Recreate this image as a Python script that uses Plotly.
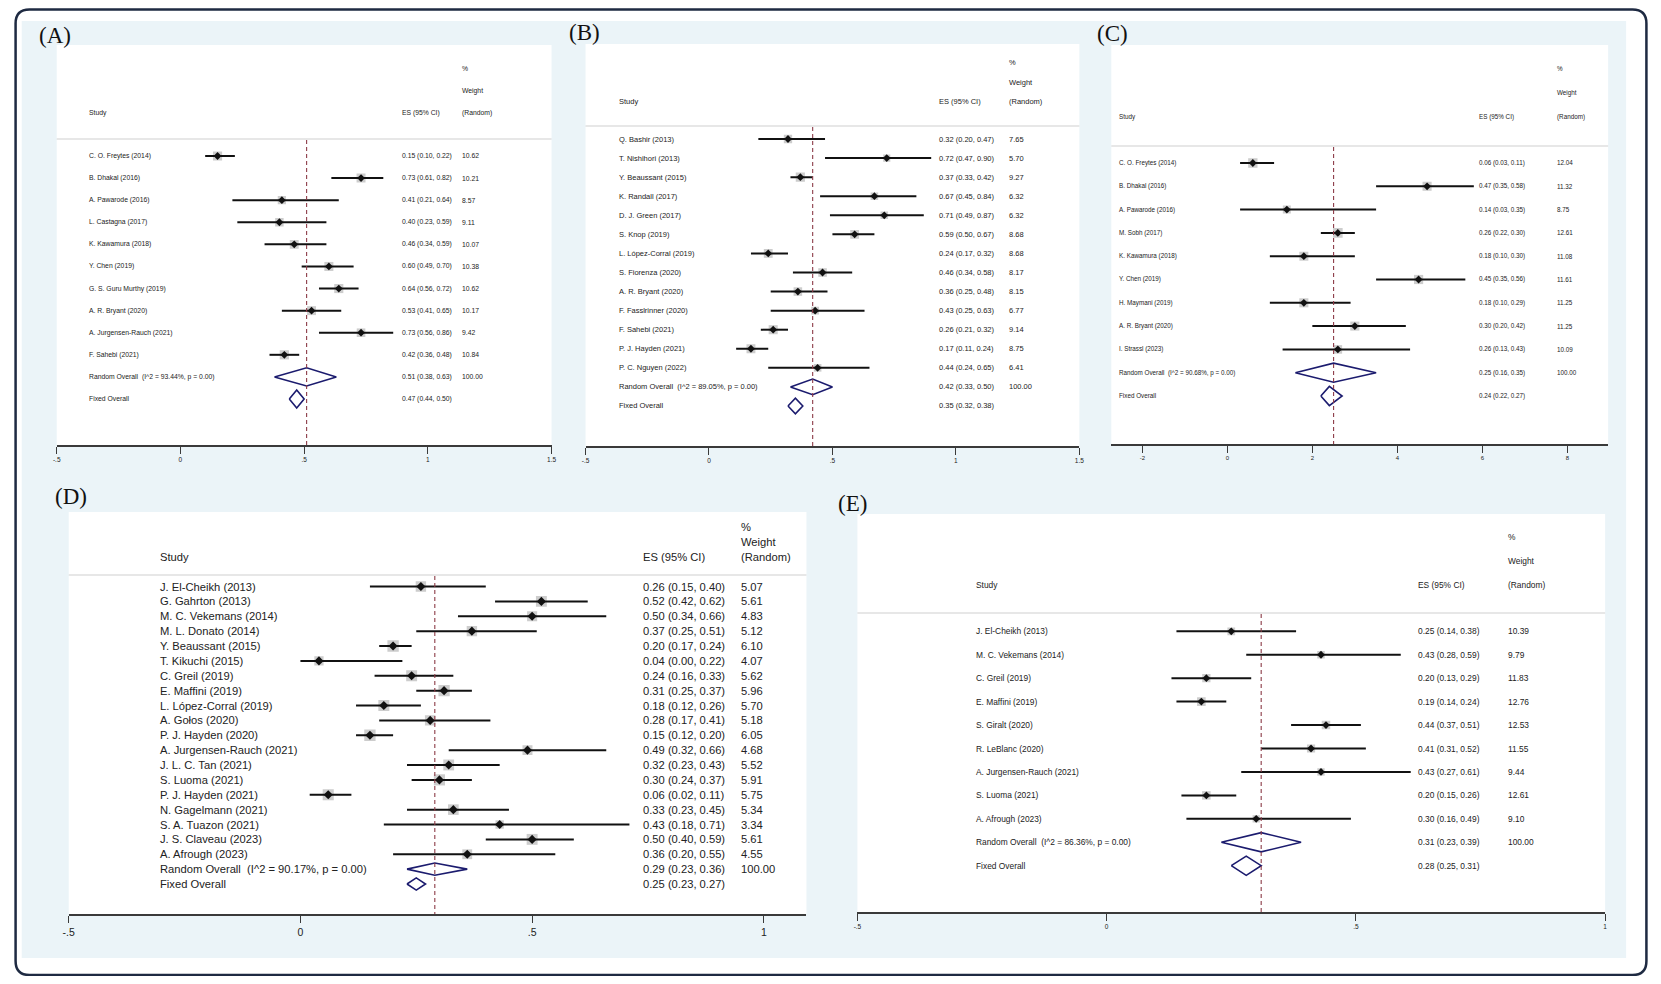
import numpy as np
import plotly.graph_objects as go

# ---------------- data ----------------
# (A)
a_study = ["C. O. Freytes (2014)", "B. Dhakal (2016)", "A. Pawarode (2016)", "L. Castagna (2017)",
           "K. Kawamura (2018)", "Y. Chen (2019)", "G. S. Guru Murthy (2019)", "A. R. Bryant (2020)",
           "A. Jurgensen-Rauch (2021)", "F. Sahebi (2021)"]
a_es = [0.15, 0.73, 0.41, 0.40, 0.46, 0.60, 0.64, 0.53, 0.73, 0.42]
a_lci = [0.10, 0.61, 0.21, 0.23, 0.34, 0.49, 0.56, 0.41, 0.56, 0.36]
a_uci = [0.22, 0.82, 0.64, 0.59, 0.59, 0.70, 0.72, 0.65, 0.86, 0.48]
a_wt = [10.62, 10.21, 8.57, 9.11, 10.07, 10.38, 10.62, 10.17, 9.42, 10.84]
a_rand = [0.51, 0.38, 0.63]
a_fixed = [0.47, 0.44, 0.50]
a_i2 = 93.44

# (B)
b_study = ["Q. Bashir (2013)", "T. Nishihori (2013)", "Y. Beaussant (2015)", "K. Randall (2017)",
           "D. J. Green (2017)", "S. Knop (2019)", "L. López-Corral (2019)", "S. Fiorenza (2020)",
           "A. R. Bryant (2020)", "F. Fasslrinner (2020)", "F. Sahebi (2021)", "P. J. Hayden (2021)",
           "P. C. Nguyen (2022)"]
b_es = [0.32, 0.72, 0.37, 0.67, 0.71, 0.59, 0.24, 0.46, 0.36, 0.43, 0.26, 0.17, 0.44]
b_lci = [0.20, 0.47, 0.33, 0.45, 0.49, 0.50, 0.17, 0.34, 0.25, 0.25, 0.21, 0.11, 0.24]
b_uci = [0.47, 0.90, 0.42, 0.84, 0.87, 0.67, 0.32, 0.58, 0.48, 0.63, 0.32, 0.24, 0.65]
b_wt = [7.65, 5.70, 9.27, 6.32, 6.32, 8.68, 8.68, 8.17, 8.15, 6.77, 9.14, 8.75, 6.41]
b_rand = [0.42, 0.33, 0.50]
b_fixed = [0.35, 0.32, 0.38]
b_i2 = 89.05

# (C)
c_study = ["C. O. Freytes (2014)", "B. Dhakal (2016)", "A. Pawarode (2016)", "M. Sobh (2017)",
           "K. Kawamura (2018)", "Y. Chen (2019)", "H. Maymani (2019)", "A. R. Bryant (2020)",
           "I. Strassl (2023)"]
c_es = [0.06, 0.47, 0.14, 0.26, 0.18, 0.45, 0.18, 0.30, 0.26]
c_lci = [0.03, 0.35, 0.03, 0.22, 0.10, 0.35, 0.10, 0.20, 0.13]
c_uci = [0.11, 0.58, 0.35, 0.30, 0.30, 0.56, 0.29, 0.42, 0.43]
c_wt = [12.04, 11.32, 8.75, 12.61, 11.08, 11.61, 11.25, 11.25, 10.09]
c_rand = [0.25, 0.16, 0.35]
c_fixed = [0.24, 0.22, 0.27]
c_i2 = 90.68

# (D)
d_study = ["J. El-Cheikh (2013)", "G. Gahrton (2013)", "M. C. Vekemans (2014)", "M. L. Donato (2014)",
           "Y. Beaussant (2015)", "T. Kikuchi (2015)", "C. Greil (2019)", "E. Maffini (2019)",
           "L. López-Corral (2019)", "A. Gołos (2020)", "P. J. Hayden (2020)",
           "A. Jurgensen-Rauch (2021)", "J. L. C. Tan (2021)", "S. Luoma (2021)", "P. J. Hayden (2021)",
           "N. Gagelmann (2021)", "S. A. Tuazon (2021)", "J. S. Claveau (2023)", "A. Afrough (2023)"]
d_es = [0.26, 0.52, 0.50, 0.37, 0.20, 0.04, 0.24, 0.31, 0.18, 0.28, 0.15, 0.49, 0.32, 0.30, 0.06,
        0.33, 0.43, 0.50, 0.36]
d_lci = [0.15, 0.42, 0.34, 0.25, 0.17, 0.00, 0.16, 0.25, 0.12, 0.17, 0.12, 0.32, 0.23, 0.24, 0.02,
         0.23, 0.18, 0.40, 0.20]
d_uci = [0.40, 0.62, 0.66, 0.51, 0.24, 0.22, 0.33, 0.37, 0.26, 0.41, 0.20, 0.66, 0.43, 0.37, 0.11,
         0.45, 0.71, 0.59, 0.55]
d_wt = [5.07, 5.61, 4.83, 5.12, 6.10, 4.07, 5.62, 5.96, 5.70, 5.18, 6.05, 4.68, 5.52, 5.91, 5.75,
        5.34, 3.34, 5.61, 4.55]
d_rand = [0.29, 0.23, 0.36]
d_fixed = [0.25, 0.23, 0.27]
d_i2 = 90.17

# (E)
e_study = ["J. El-Cheikh (2013)", "M. C. Vekemans (2014)", "C. Greil (2019)", "E. Maffini (2019)",
           "S. Giralt (2020)", "R. LeBlanc (2020)", "A. Jurgensen-Rauch (2021)", "S. Luoma (2021)",
           "A. Afrough (2023)"]
e_es = [0.25, 0.43, 0.20, 0.19, 0.44, 0.41, 0.43, 0.20, 0.30]
e_lci = [0.14, 0.28, 0.13, 0.14, 0.37, 0.31, 0.27, 0.15, 0.16]
e_uci = [0.38, 0.59, 0.29, 0.24, 0.51, 0.52, 0.61, 0.26, 0.49]
e_wt = [10.39, 9.79, 11.83, 12.76, 12.53, 11.55, 9.44, 12.61, 9.10]
e_rand = [0.31, 0.23, 0.39]
e_fixed = [0.28, 0.25, 0.31]
e_i2 = 86.36

ticks_half = [-0.5, 0, 0.5, 1, 1.5]
ticks_half_txt = ["-.5", "0", ".5", "1", "1.5"]
ticks_c = [-0.2, 0, 0.2, 0.4, 0.6, 0.8]
ticks_c_txt = ["-2", "0", "2", "4", "6", "8"]

# ---------------- layout (pixel geometry of each panel, screen coords) ----------------
# page body keeps its 8px margin, so the figure is 16px smaller; the photo also
# comes out a touch narrower, which px() undoes
OFF = 8
W, H = 1661 - 2 * OFF, 984 - 2 * OFF
SX, AX = 0.9937, 5.3


def px(x):
    return ((x - AX) / SX - OFF) / W


def py(y):
    return 1 - (y - OFF) / H


NARROW = "Liberation Sans Narrow, Arial Narrow, Liberation Sans, Arial, sans-serif"
REG = "Liberation Sans, Arial, sans-serif"

panels = [
    dict(lab="(A)", lab_xy=(36, 35), study=a_study, es=a_es, lci=a_lci, uci=a_uci, wt=a_wt,
         rand=a_rand, fixed=a_fixed, i2=a_i2, tv=ticks_half, tt=ticks_half_txt,
         x0=56, x1=551, xr=[-0.5, 1.5], top=45, axis=445, row0=156, step=22.09, hline=139,
         hy=(68, 91, 113), sx=86, ex=399, wx=459, fam=NARROW, fs=6.8, box=2.8, dot=6, tfs=6.5),
    dict(lab="(B)", lab_xy=(566, 32), study=b_study, es=b_es, lci=b_lci, uci=b_uci, wt=b_wt,
         rand=b_rand, fixed=b_fixed, i2=b_i2, tv=ticks_half, tt=ticks_half_txt,
         x0=585, x1=1079, xr=[-0.5, 1.5], top=44, axis=446, row0=139, step=19.07, hline=126,
         hy=(63, 83, 102), sx=616, ex=937, wx=1007, fam=NARROW, fs=7.5, box=3.0, dot=6, tfs=6.5),
    dict(lab="(C)", lab_xy=(1095, 34), study=c_study, es=c_es, lci=c_lci, uci=c_uci, wt=c_wt,
         rand=c_rand, fixed=c_fixed, i2=c_i2, tv=ticks_c, tt=ticks_c_txt,
         x0=1111, x1=1608, xr=[-0.273, 0.896], top=45, axis=444, row0=163, step=23.3, hline=146,
         hy=(69, 93, 117), sx=1117, ex=1477, wx=1555, fam=NARROW, fs=6.3, box=2.7, dot=6, tfs=6.0),
    dict(lab="(D)", lab_xy=(52, 496), study=d_study, es=d_es, lci=d_lci, uci=d_uci, wt=d_wt,
         rand=d_rand, fixed=d_fixed, i2=d_i2, tv=ticks_half[:4], tt=ticks_half_txt[:4],
         x0=68, x1=806, xr=[-0.5, 1.092], top=512, axis=914, row0=586.5, step=14.875, hline=575,
         hy=(527, 542, 557), sx=157, ex=640, wx=739, fam=REG, fs=11.2, box=4.6, dot=7, tfs=10.5),
    dict(lab="(E)", lab_xy=(836, 503), study=e_study, es=e_es, lci=e_lci, uci=e_uci, wt=e_wt,
         rand=e_rand, fixed=e_fixed, i2=e_i2, tv=ticks_half[:4], tt=ticks_half_txt[:4],
         x0=857, x1=1605, xr=[-0.5, 1.0], top=514, axis=912, row0=631.3, step=23.44, hline=613,
         hy=(537, 561, 585), sx=974, ex=1416, wx=1506, fam=NARROW, fs=8.4, box=2.4, dot=6, tfs=6.5),
]

NAVY = "#1b1b6e"
DASH = "#8c3b47"
TXT = "#222222"

fig = go.Figure()
annotations = []
shapes = []
axes = {}

for k, p in enumerate(panels):
    n = "" if k == 0 else str(k + 1)
    xa, ya = "x" + n, "y" + n
    es, lci, uci, wt = (np.array(p[c]) for c in ("es", "lci", "uci", "wt"))
    ns = len(es)
    rows = np.arange(ns)

    # grey weight boxes
    fig.add_trace(go.Scatter(x=es, y=rows, mode="markers", xaxis=xa, yaxis=ya, hoverinfo="skip",
                             marker=dict(symbol="square", size=p["box"] * np.sqrt(wt),
                                         color="#b8b8b8", line_width=0)))
    # point estimates with CI
    fig.add_trace(go.Scatter(x=es, y=rows, mode="markers", xaxis=xa, yaxis=ya,
                             marker=dict(symbol="diamond", size=p["dot"], color="#111111"),
                             error_x=dict(type="data", symmetric=False, array=uci - es,
                                          arrayminus=es - lci, width=0, thickness=2,
                                          color="#111111")))
    # overall diamonds
    for j, (e, l, u) in enumerate([p["rand"], p["fixed"]]):
        r = ns + j
        fig.add_trace(go.Scatter(x=[l, e, u, e, l], y=[r, r - 0.41, r, r + 0.41, r], mode="lines",
                                 fill="toself", fillcolor="white", xaxis=xa, yaxis=ya,
                                 line=dict(color=NAVY, width=1.6), hoverinfo="skip"))

    ytop = (p["top"] - p["row0"]) / p["step"]
    ybot = (p["axis"] - p["row0"]) / p["step"]
    axes["xaxis" + n] = dict(domain=[px(p["x0"]), px(p["x1"])], range=p["xr"], anchor=ya,
                             showline=True, linecolor="#3a3a3a", linewidth=2, ticks="outside",
                             ticklen=7, tickwidth=1.2, tickcolor="#3a3a3a", tickvals=p["tv"],
                             ticktext=p["tt"], tickfont=dict(size=p["tfs"], color=TXT),
                             showgrid=False, zeroline=False, fixedrange=True)
    axes["yaxis" + n] = dict(domain=[py(p["axis"]), py(p["top"])], range=[ybot, ytop],
                             anchor=xa, visible=False, fixedrange=True)

    # header separator and dashed line at the random overall estimate
    shapes.append(dict(type="line", xref=xa + " domain", x0=0, x1=1, yref="paper",
                       y0=py(p["hline"]), y1=py(p["hline"]), line=dict(color="#cfcfcf", width=1)))
    shapes.append(dict(type="line", xref=xa, x0=p["rand"][0], x1=p["rand"][0], yref="paper",
                       y0=py(p["hline"] + 1), y1=py(p["axis"]), layer="above",
                       line=dict(color=DASH, width=1.1, dash="4px,3px")))

    fnt = dict(family=p["fam"], size=p["fs"], color=TXT)

    def txt(x, y, s, yref="paper"):
        annotations.append(dict(x=px(x), y=y, xref="paper", yref=yref, text=s, showarrow=False,
                                xanchor="left", yanchor="middle", font=fnt))

    # headers
    txt(p["sx"], py(p["hy"][2]), "Study")
    txt(p["ex"], py(p["hy"][2]), "ES (95% CI)")
    txt(p["wx"], py(p["hy"][0]), "%")
    txt(p["wx"], py(p["hy"][1]), "Weight")
    txt(p["wx"], py(p["hy"][2]), "(Random)")

    # rows
    labels = p["study"] + ["Random Overall  (I^2 = %.2f%%, p = 0.00)" % p["i2"], "Fixed Overall"]
    cis = [f"{e:.2f} ({l:.2f}, {u:.2f})" for e, l, u in zip(es, lci, uci)]
    cis += [f"{p['rand'][0]:.2f} ({p['rand'][1]:.2f}, {p['rand'][2]:.2f})",
            f"{p['fixed'][0]:.2f} ({p['fixed'][1]:.2f}, {p['fixed'][2]:.2f})"]
    wts = [f"{w:.2f}" for w in wt] + ["100.00", ""]
    for i in range(ns + 2):
        txt(p["sx"], i, labels[i], ya)
        txt(p["ex"], i, cis[i], ya)
        if wts[i]:
            txt(p["wx"], i, wts[i], ya)

    annotations.append(dict(x=px(p["lab_xy"][0]), y=py(p["lab_xy"][1]), xref="paper", yref="paper",
                            text=p["lab"], showarrow=False, xanchor="left", yanchor="middle",
                            font=dict(family="Liberation Serif, Times New Roman, serif", size=23,
                                      color="#111111")))

# white outer frame and the rounded dark border (kept just inside the figure)
for x0, y0, x1, y1 in [(0, 0, 1661, 21), (0, 958, 1661, 984), (0, 0, 21, 984), (1626, 0, 1661, 984)]:
    shapes.append(dict(type="rect", xref="paper", yref="paper", x0=px(x0), x1=px(x1),
                       y0=py(y1), y1=py(y0), fillcolor="white", line_width=0, layer="above"))

fx0, fx1 = 1.6 / W, 1 - 1.6 / W
fy0, fy1 = py(975), py(9.5)
rx, ry = 14 / W, 14 / H
path = (f"M {fx0 + rx},{fy1} L {fx1 - rx},{fy1} Q {fx1},{fy1} {fx1},{fy1 - ry} "
        f"L {fx1},{fy0 + ry} Q {fx1},{fy0} {fx1 - rx},{fy0} L {fx0 + rx},{fy0} "
        f"Q {fx0},{fy0} {fx0},{fy0 + ry} L {fx0},{fy1 - ry} Q {fx0},{fy1} {fx0 + rx},{fy1} Z")
shapes.append(dict(type="path", xref="paper", yref="paper", path=path, layer="above",
                   line=dict(color="#1e2a42", width=2.5)))

fig.update_layout(width=W, height=H, margin=dict(l=0, r=0, t=0, b=0), showlegend=False,
                  paper_bgcolor="#ebf4f8", plot_bgcolor="white",
                  font=dict(family=REG, color=TXT),
                  annotations=annotations, shapes=shapes, **axes)

fig.write_html("out.html")
